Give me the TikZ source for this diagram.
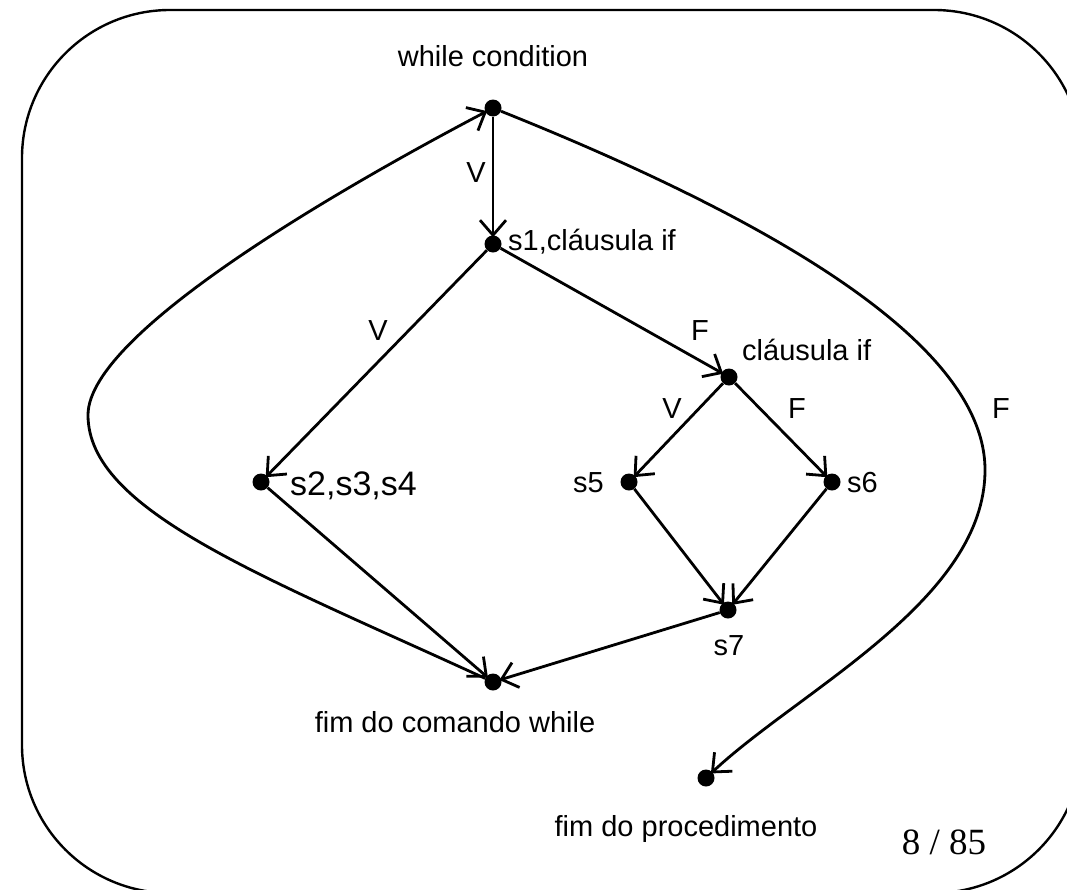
\documentclass[tikz,border=0pt]{standalone}
\usepackage{fontspec}
\setmainfont{Liberation Sans}
\newfontfamily\numfont{Liberation Serif}
\usetikzlibrary{arrows.meta}
\begin{document}
\begin{tikzpicture}[x=1pt,y=-1pt,
  dot/.style={circle,fill=black,inner sep=0pt,minimum size=17pt},
  lbl/.style={font=\fontsize{29}{34}\selectfont,inner sep=0pt},
  big/.style={font=\fontsize{34}{40}\selectfont,inner sep=0pt},
  arr/.style={line width=2.8pt,shorten >=-2pt,-{Straight Barb[length=15pt,width=26pt,line width=2.8pt]}},
  frame/.style={line width=2.4pt,rounded corners=148pt}]
\useasboundingbox (0,0) rectangle (1067,889);
\clip (0,0) rectangle (1067,889);
\draw[frame] (22,10) rectangle (1082,893);

\node[dot] (wc) at (493,108) {};
\node[dot] (s1) at (493,244) {};
\node[dot] (ci) at (729,377) {};
\node[dot] (s2) at (261,482) {};
\node[dot] (s5) at (629,482) {};
\node[dot] (s6) at (832,482) {};
\node[dot] (s7) at (728,610) {};
\node[dot] (fw) at (493,682) {};
\node[dot] (fp) at (706,778) {};
\coordinate (L) at (88,415);
\coordinate (R) at (985,470);

\node[lbl,anchor=base] (twc) at (493,66) {while condition};
\node[lbl,anchor=base west] (ts1) at (508,250) {s1,cláusula if};
\node[lbl,anchor=base west] (tci) at (742,360) {cláusula if};
\node[big,anchor=base west] (ts2) at (290,495) {s2,s3,s4};
\node[lbl,anchor=base east] (ts5) at (604,492) {s5};
\node[lbl,anchor=base west] (ts6) at (847,492) {s6};
\node[lbl,anchor=base] (ts7) at (729,655) {s7};
\node[lbl,anchor=base] (tfw) at (455,732) {fim do comando while};
\node[lbl,anchor=base] (tfp) at (686,836) {fim do procedimento};

\node[lbl,anchor=base] (v1) at (476,182) {V};
\node[lbl,anchor=base] (v2) at (378,340) {V};
\node[lbl,anchor=base] (f1) at (700,340) {F};
\node[lbl,anchor=base] (v3) at (672,418) {V};
\node[lbl,anchor=base] (f2) at (797,418) {F};
\node[lbl,anchor=base] (f3) at (1001,418) {F};

\node[anchor=base,inner sep=0pt,font=\numfont\fontsize{37}{44}\selectfont] (pg) at (944,854) {8 / 85};

\draw[arr] (wc) -- (s1);
\draw[arr] (s1) -- (s2);
\draw[arr] (s1) -- (ci);
\draw[arr] (ci) -- (s5);
\draw[arr] (ci) -- (s6);
\draw[arr] (s5) -- (s7);
\draw[arr] (s6) -- (s7);
\draw[arr] (s7) -- (fw);
\draw[arr] (s2) -- (fw);
\draw[arr] (fw) .. controls (260,575) and (88,510) .. (L) .. controls (88,330) and (360,178) .. (wc);
\draw[arr] (wc) .. controls (760,215) and (985,340) .. (R) .. controls (985,600) and (800,690) .. (fp);
\end{tikzpicture}
\end{document}
